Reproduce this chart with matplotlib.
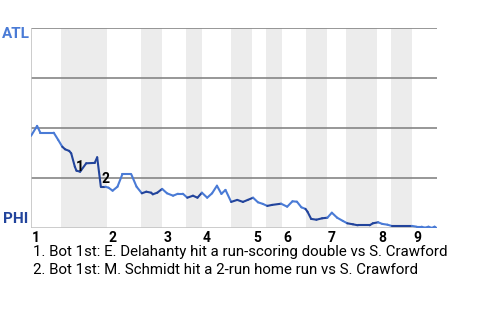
import matplotlib
matplotlib.use("Agg")
import matplotlib.pyplot as plt
from matplotlib.collections import LineCollection
from matplotlib.transforms import offset_copy
import numpy as np

plt.rcParams['font.family'] = ['Roboto', 'DejaVu Sans']

# Win probability (ATL %) by game progress (0-100)
wp_x = [0, 1.5, 2.3, 5.6, 6.7, 7.7, 8.4, 9.4, 9.9, 10.8, 11.2, 12.1, 13.6, 15.7, 16.3,
        17.2, 18.3, 19.1, 20.1, 21.3, 22.5, 24.7, 26.0, 27.3, 28.4, 29.6, 30.0, 31.1,
        32.3, 33.5, 35.0, 36.2, 37.4, 38.5, 39.9, 41.0, 42.1, 43.4, 44.6, 45.8, 46.9,
        47.9, 49.3, 50.8, 52.2, 53.4, 54.7, 55.9, 57.1, 58.2, 59.4, 61.6, 63.1, 64.4,
        65.5, 66.6, 67.6, 68.1, 69.0, 70.3, 71.7, 73.0, 74.1, 75.4, 76.8, 77.9, 79.3,
        80.5, 83.4, 84.2, 85.5, 86.5, 87.8, 88.8, 93.8, 95.0, 96.2, 97.0, 97.9, 98.7,
        99.4, 100]
wp_y = [46.2, 51.2, 47.8, 47.8, 44.2, 40.8, 39.5, 38.7, 37.5, 30.8, 28.8, 28.3, 32.5,
        32.7, 35.5, 20.8, 20.8, 20.3, 18.8, 20.8, 27.0, 27.0, 20.8, 17.5, 18.3, 17.8,
        17.0, 17.8, 19.7, 17.5, 16.3, 17.3, 17.3, 15.3, 16.3, 15.3, 17.8, 15.3, 17.5,
        21.3, 17.2, 19.2, 13.2, 14.2, 13.2, 14.2, 15.3, 13.0, 12.2, 11.2, 11.7, 12.3,
        10.8, 13.5, 13.3, 10.5, 9.7, 8.3, 4.7, 4.3, 5.0, 5.3, 7.8, 5.3, 3.7, 2.5, 2.0,
        1.5, 1.5, 2.5, 3.0, 2.2, 1.8, 1.2, 1.2, 0.8, 0.8, 0.3, 0.8, 0.2, 0.8, 0.0]

# half-inning boundaries (game progress)
half_bounds = [0, 7.4, 18.7, 27.1, 32.3, 38.2, 42.1, 49.3, 54.4, 57.9, 61.8, 67.7,
               72.9, 77.6, 85.2, 88.7, 93.8, 100]
inning_labels = ['1', '2', '3', '4', '5', '6', '7', '8', '9']

# key events: index in series, marker label
event_idx = [11, 16]
event_labels = ['1', '2']
event_offsets = [(0, 5), (0, 8)]  # pixels
footnotes = ["1. Bot 1st: E. Delahanty hit a run-scoring double vs S. Crawford",
             "2. Bot 1st: M. Schmidt hit a 2-run home run vs S. Crawford"]

LIGHT = '#4a7bd6'
DARK = '#22449c'

W, H = 480, 320
fig = plt.figure(figsize=(W / 100, H / 100), dpi=100)
ax = fig.add_axes([31 / W, (H - 228.3) / H, (437 - 31) / W, 200 / H])
ax.set_xlim(0, 100)
ax.set_ylim(0, 100)
for s in ax.spines.values():
    s.set_visible(False)
ax.set_xticks([])
ax.set_yticks([])

# shaded bottom halves
bottoms = []
for i in range(1, len(half_bounds) - 1, 2):
    a, b = half_bounds[i], half_bounds[i + 1]
    ax.axvspan(a, b, color='#ececec', lw=0, zorder=0)
    bottoms.append((a, b))

# grid lines
for g in [25, 50, 75, 100]:
    ax.axhline(g, color='#858585', lw=1.2, zorder=1)
ax.axhline(0, color='#c4c4c4', lw=1.2, zorder=1)
ax.axvline(0, color='#c4c4c4', lw=1.2, zorder=1)

# line segments colored by half inning
pts = np.column_stack([wp_x, wp_y])
segs = np.stack([pts[:-1], pts[1:]], axis=1)
cols = []
for s in segs:
    m = (s[0][0] + s[1][0]) / 2
    cols.append(DARK if any(a <= m < b for a, b in bottoms) else LIGHT)
lc = LineCollection(segs, colors=cols, linewidths=1.5, zorder=3, capstyle='round',
                    joinstyle='round')
ax.add_collection(lc)

# events
for idx, lab, (dx, dy) in zip(event_idx, event_labels, event_offsets):
    ax.annotate(lab, (wp_x[idx], wp_y[idx]), xytext=(dx * 0.72, dy * 0.72),
                textcoords='offset points', ha='center', va='center',
                fontsize=10, fontweight='bold', color='black', zorder=4)

# inning labels
starts = half_bounds[0:-1:2]
for lab, st in zip(inning_labels, starts):
    tr = offset_copy(ax.transData, fig=fig, x=0.8, y=-10 * 0.72, units='points')
    ax.text(st, 0, lab, transform=tr, ha='left', va='center', fontsize=10,
            fontweight='bold', color='black')

# team labels
fig.text(15.5 / W, 1 - 34 / H, 'ATL', ha='center', va='center', fontsize=11,
         fontweight='bold', color=LIGHT)
fig.text(15.5 / W, 1 - 219 / H, 'PHI', ha='center', va='center', fontsize=11,
         fontweight='bold', color=DARK)

for i, t in enumerate(footnotes):
    fig.text(33 / W, 1 - (252 + 18 * i) / H, t, ha='left', va='center', fontsize=10.8,
             color='black')

fig.savefig('out.png', dpi=100)
